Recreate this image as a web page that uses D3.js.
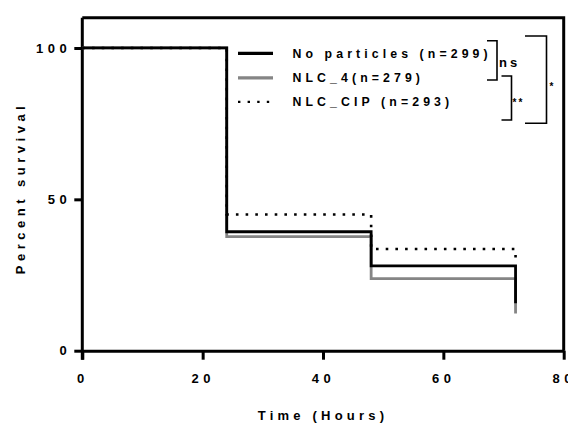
<!DOCTYPE html>
<html>
<head>
<meta charset="utf-8">
<script src="https://cdn.jsdelivr.net/npm/d3@7"></script>
<style>
  body { margin: 0; background: #fff; }
  svg text { font-family: "Liberation Sans", Arial, sans-serif; font-weight: bold; fill: #000; }
</style>
</head>
<body>
<div id="chart"></div>
<script>
// data
var times = [0, 24, 48, 72];
var noParticles = [100, 39.3, 28.0, 15.7];
var nlc4 = [100, 37.7, 23.8, 12.3];
var nlcCip = [100, 45.0, 33.6, 30.4];
var seriesNames = ['No particles (n=299)', 'NLC_4(n=279)', 'NLC_CIP (n=293)'];
var xTicks = [0, 20, 40, 60, 80];
var yTicks = [0, 50, 100];

var svgWidth = 568;
var svgHeight = 425;

// plot area
var margins = { top: 17.7, right: 4.3, bottom: 74.3, left: 82.3 };
var chartWidth = svgWidth - margins.left - margins.right;
var chartHeight = svgHeight - margins.top - margins.bottom;

var svg = d3.select('#chart')
    .append('svg')
    .attr('width', svgWidth)
    .attr('height', svgHeight);

var chartGroup = svg.append('g')
    .attr('transform', `translate(${margins.left}, ${margins.top})`);

var x = d3.scaleLinear().domain([0, 80]).range([0, chartWidth]);
var y = d3.scaleLinear().domain([0, 110]).range([chartHeight, 0]);

// frame (top and right)
chartGroup.append('path')
    .attr('d', `M0,0H${x(80)}V${chartHeight}`)
    .attr('fill', 'none')
    .attr('stroke', '#000')
    .attr('stroke-width', 3);

// axes
var bottomAxis = d3.axisBottom(x).tickValues(xTicks).tickSize(9).tickPadding(14).tickSizeOuter(0);
var leftAxis = d3.axisLeft(y).tickValues(yTicks).tickSize(8).tickPadding(3).tickSizeOuter(0);

var xg = chartGroup.append('g')
    .attr('transform', `translate(0, ${chartHeight})`)
    .call(bottomAxis);
var yg = chartGroup.append('g')
    .call(leftAxis);

[xg, yg].forEach(g => {
    g.select('.domain').attr('stroke-width', 3);
    g.selectAll('.tick line').attr('stroke-width', 3);
    g.selectAll('.tick text')
        .attr('font-size', 13)
        .attr('letter-spacing', 4.5)
        .style('font-family', '"Liberation Sans", Arial, sans-serif');
});
yg.select('.domain').attr('d', `M0,${chartHeight + 9}V0`);

// survival curves
var line = d3.line()
    .x(d => x(d[0]))
    .y(d => y(d[1]))
    .curve(d3.curveStepAfter);

var curves = [
    { values: nlc4, color: '#858585', dash: null, width: 2.8 },
    { values: noParticles, color: '#000', dash: null, width: 2.8 },
    { values: nlcCip, color: '#000', dash: '2.6 7.1', width: 2.6 }
];

chartGroup.selectAll('.curve')
    .data(curves)
    .enter()
    .append('path')
    .attr('class', 'curve')
    .attr('d', c => line(times.map((t, i) => [t, c.values[i]])))
    .attr('fill', 'none')
    .attr('stroke', c => c.color)
    .attr('stroke-width', c => c.width)
    .attr('stroke-dasharray', c => c.dash);

// legend
var legendItems = [
    { name: seriesNames[0], color: '#000', dash: null, y: 53.3 },
    { name: seriesNames[1], color: '#858585', dash: null, y: 77.8 },
    { name: seriesNames[2], color: '#000', dash: '2.4 7.2', y: 101.8 }
];
var legend = svg.append('g');
legend.selectAll('line')
    .data(legendItems)
    .enter()
    .append('line')
    .attr('x1', 238).attr('x2', 273)
    .attr('y1', d => d.y).attr('y2', d => d.y)
    .attr('stroke', d => d.color)
    .attr('stroke-width', d => d.dash ? 2.2 : 3.2)
    .attr('stroke-dasharray', d => d.dash);
legend.selectAll('text')
    .data(legendItems)
    .enter()
    .append('text')
    .attr('x', 292.5)
    .attr('y', d => d.y + 4.6)
    .attr('font-size', 12.3)
    .attr('letter-spacing', 4.1)
    .text(d => d.name);

// significance brackets
var brackets = [
    { x0: 487, x1: 497, y0: 40.7, y1: 80, label: 'ns', lx: 499, ly: 67, size: 13, ls: 3 },
    { x0: 501.5, x1: 511.5, y0: 76, y1: 120, label: '**', lx: 512.5, ly: 106, size: 10, ls: 2 },
    { x0: 525, x1: 546.5, y0: 36, y1: 123.3, label: '*', lx: 549.5, ly: 90, size: 10, ls: 0 }
];
var br = svg.append('g');
br.selectAll('path')
    .data(brackets)
    .enter()
    .append('path')
    .attr('d', b => `M${b.x0},${b.y0}H${b.x1}V${b.y1}H${b.x0}`)
    .attr('fill', 'none')
    .attr('stroke', '#000')
    .attr('stroke-width', 1.6);
br.selectAll('text')
    .data(brackets)
    .enter()
    .append('text')
    .attr('x', b => b.lx)
    .attr('y', b => b.ly)
    .attr('font-size', b => b.size)
    .attr('letter-spacing', b => b.ls)
    .text(b => b.label);

// axis titles
svg.append('text')
    .attr('x', 323)
    .attr('y', 420)
    .attr('text-anchor', 'middle')
    .attr('font-size', 13)
    .attr('letter-spacing', 4.2)
    .text('Time (Hours)');

svg.append('text')
    .attr('transform', 'translate(25, 188) rotate(-90)')
    .attr('text-anchor', 'middle')
    .attr('font-size', 13)
    .attr('letter-spacing', 4.5)
    .text('Percent survival');
</script>
</body>
</html>
